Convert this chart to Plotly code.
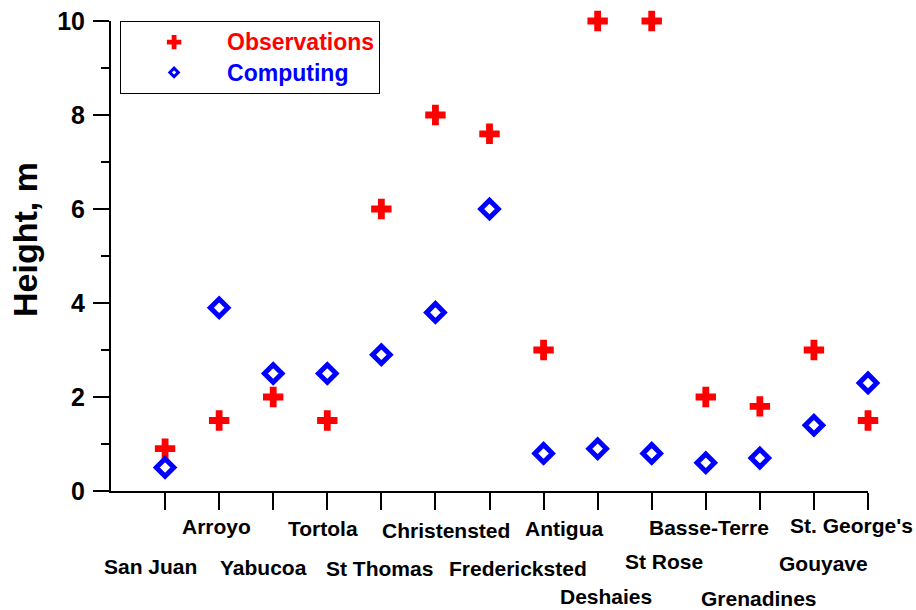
import plotly.graph_objects as go

categories = ["San Juan", "Arroyo", "Yabucoa", "Tortola", "St Thomas", "Christensted",
              "Fredericksted", "Antigua", "Deshaies", "St Rose", "Basse-Terre",
              "Grenadines", "Gouyave", "St. George's"]
observations = [0.9, 1.5, 2.0, 1.5, 6.0, 8.0, 7.6, 3.0, 10.0, 10.0, 2.0, 1.8, 3.0, 1.5]
computing = [0.5, 3.9, 2.5, 2.5, 2.9, 3.8, 6.0, 0.8, 0.9, 0.8, 0.6, 0.7, 1.4, 2.3]
y_ticks = [0, 2, 4, 6, 8, 10]

# label layout (pixels): horizontal shift from tick, vertical depth below axis
label_dx = [-15, -2.5, -9.5, -4.5, -1.5, 11, 28.5, 20, 8.5, 12.5, 3, -1, 9.5, -16.5]
label_dy = [75, 35, 76, 37, 77, 39, 77, 37, 105, 70, 36, 107, 72, 34]

FONT = "Liberation Sans, Arial, sans-serif"
RED = "#ff0000"
BLUE = "#0000ff"

fig = go.Figure()
# data traces
fig.add_trace(go.Scatter(
    x=categories, y=observations, mode="markers", showlegend=False,
    marker=dict(symbol="cross", size=17, color=RED, line=dict(width=0)),
    cliponaxis=False,
))
fig.add_trace(go.Scatter(
    x=categories, y=computing, mode="markers", showlegend=False,
    marker=dict(symbol="diamond-open", size=13.5, color=BLUE, line=dict(width=5, color=BLUE)),
    cliponaxis=False,
))
# legend entries (smaller symbols, as in the reference key)
fig.add_trace(go.Scatter(
    x=[None], y=[None], mode="markers",
    name=f'<span style="color:{RED};font-size:23px">Observations</span>',
    marker=dict(symbol="cross", size=12, color=RED, line=dict(width=0)),
))
fig.add_trace(go.Scatter(
    x=[None], y=[None], mode="markers",
    name=f'<span style="color:{BLUE};font-size:23px">Computing</span>',
    marker=dict(symbol="diamond-open", size=6.5, color=BLUE, line=dict(width=3, color=BLUE)),
))

for cat, dx, dy in zip(categories, label_dx, label_dy):
    fig.add_annotation(
        x=cat, y=0, xref="x", yref="y", text=cat, showarrow=False,
        xanchor="center", yanchor="middle", xshift=dx, yshift=-dy,
        font=dict(family=FONT, size=21, color="black", weight="bold"),
    )

fig.add_annotation(
    x=0, y=0.5, xref="paper", yref="paper", text="Height, m", showarrow=False,
    textangle=-90, xanchor="center", yanchor="middle", xshift=-86, yshift=16,
    font=dict(family=FONT, size=34, color="black", weight="bold"),
)

fig.update_layout(
    width=916, height=610,
    margin=dict(l=111, r=48, t=21, b=119),
    paper_bgcolor="white", plot_bgcolor="white",
    showlegend=True,
    legend=dict(
        x=0.012, y=1.0, xanchor="left", yanchor="top",
        bordercolor="black", borderwidth=1, bgcolor="white",
        font=dict(family=FONT, size=21, weight="bold"),
        itemsizing="trace", itemwidth=96,
        tracegroupgap=0,
    ),
    xaxis=dict(
        type="category", range=[-1, 13], automargin=False,
        showgrid=False, zeroline=False,
        showline=True, linecolor="black", linewidth=2,
        ticks="outside", ticklen=17, tickwidth=2, tickcolor="black",
        showticklabels=False,
    ),
    yaxis=dict(
        range=[0, 10], tickvals=y_ticks, automargin=False,
        showgrid=False, zeroline=False,
        showline=True, linecolor="black", linewidth=2,
        ticks="outside", ticklen=16, tickwidth=2, tickcolor="black",
        minor=dict(dtick=1, ticks="outside", ticklen=8, tickwidth=2, tickcolor="black", showgrid=False),
        tickfont=dict(family=FONT, size=25, color="black", weight="bold"),
        ticklabelstandoff=3,
    ),
)

fig.write_html("out.html")
